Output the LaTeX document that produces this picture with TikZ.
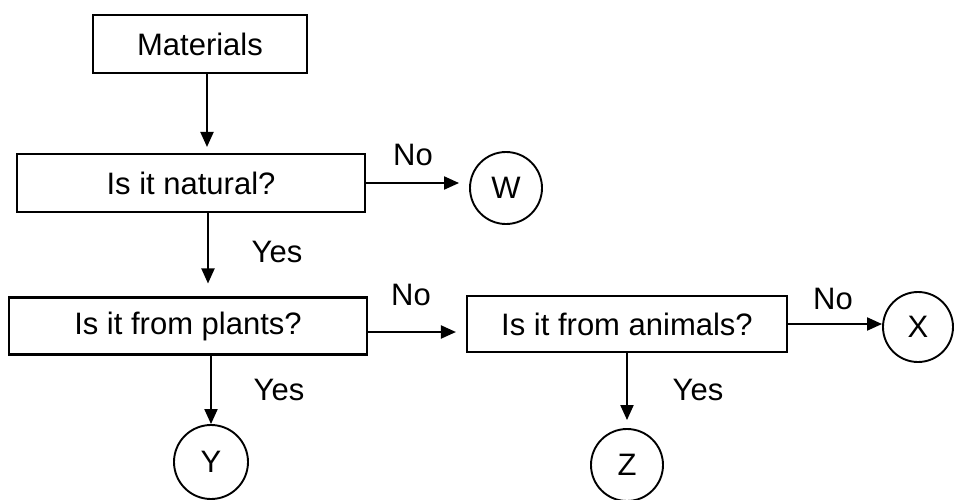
\documentclass[tikz,border=0pt]{standalone}
\usepackage{fontspec}
\setmainfont{Liberation Sans}
\usetikzlibrary{arrows.meta}
\begin{document}
\begin{tikzpicture}[x=1pt,y=-1pt,
  box/.style={draw, line width=2.1pt, minimum height=58pt, inner sep=0pt},
  circ/.style={draw, circle, line width=1.9pt, minimum size=72pt, inner sep=0pt},
  arr/.style={line width=2pt, -{Triangle[length=15pt,width=13pt]}},
  lbl/.style={inner sep=0pt},
  font=\fontsize{31pt}{36pt}\selectfont]
\useasboundingbox (0,0) rectangle (954,499);
\node[box, minimum width=214pt] (mat) at (200,44) {Materials};
\node[box, minimum width=348pt] (nat) at (191,183) {Is it natural?};
\node[box, minimum width=358pt, minimum height=57pt] (pla) at (188,326) {Is it from plants?};
\node[box, minimum width=320pt, minimum height=56pt] (ani) at (627,324) {Is it from animals?};
\node[circ] (W) at (506,188) {W};
\node[circ, minimum size=70pt] (X) at (918,327) {X};
\node[circ, minimum size=74pt] (Y) at (211,462) {Y};
\node[circ] (Z) at (627,465) {Z};

\coordinate (c1) at (207,0);
\coordinate (c2) at (208,0);
\coordinate (r2) at (0,332);
\draw[arr, shorten >=6pt] (mat.south -| c1) -- (nat.north -| c1);
\draw[arr, shorten >=13pt] (nat.south -| c2) -- (pla.north -| c2);
\draw[arr, shorten >=10pt] (nat.east) -- (nat.east -| W.west);
\draw[arr, shorten >=10pt] (pla.east |- r2) -- (ani.west |- r2);
\draw[arr] (ani.east) -- (ani.east -| X.west);
\draw[arr] (pla.south -| Y.north) -- (Y.north);
\draw[arr, shorten >=8pt] (ani.south -| Z.north) -- (Z.north);

\node[lbl] (no1) at (413,155) {No};
\node[lbl] (no2) at (411,295) {No};
\node[lbl] (no3) at (833,299) {No};
\node[lbl] (yes1) at (277,252) {Yes};
\node[lbl] (yes2) at (279,390) {Yes};
\node[lbl] (yes3) at (698,390) {Yes};
\end{tikzpicture}
\end{document}
